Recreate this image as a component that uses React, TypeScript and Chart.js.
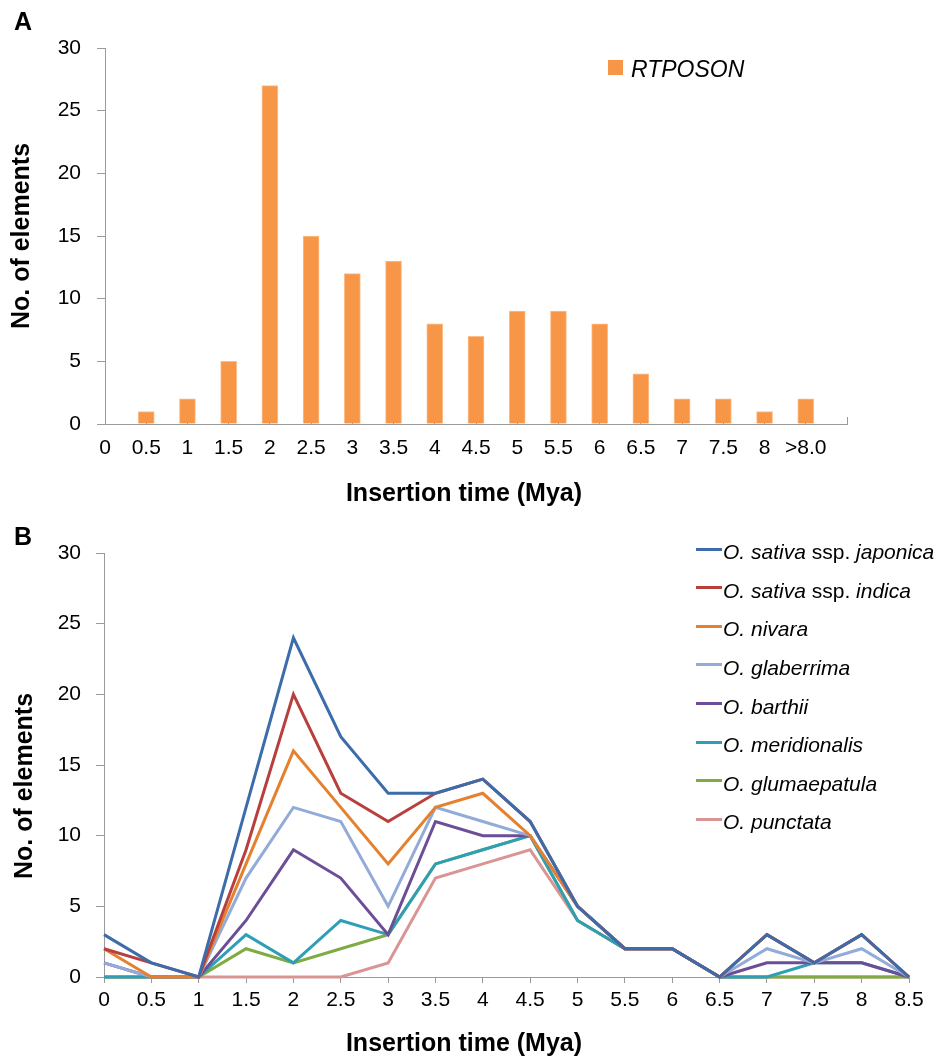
import { useEffect, useRef } from 'react';
import { Chart, registerables } from 'chart.js';

Chart.register(...registerables);

const FONT = '"Liberation Sans", Arial, Helvetica, sans-serif';

// ---------- Panel A data ----------
const barCategories = ['0', '0.5', '1', '1.5', '2', '2.5', '3', '3.5', '4', '4.5', '5', '5.5', '6', '6.5', '7', '7.5', '8', '>8.0', ''];
const rtposonCounts = [null, 1, 2, 5, 27, 15, 12, 13, 8, 7, 9, 9, 8, 4, 2, 2, 1, 2, null];

// ---------- Panel B data ----------
const timeLabels = ['0', '0.5', '1', '1.5', '2', '2.5', '3', '3.5', '4', '4.5', '5', '5.5', '6', '6.5', '7', '7.5', '8', '8.5'];
const japonica = [3, 1, 0, 12, 24, 17, 13, 13, 14, 11, 5, 2, 2, 0, 3, 1, 3, 0];
const indica = [2, 1, 0, 9, 20, 13, 11, 13, 14, 11, 5, 2, 2, 0, 3, 1, 3, 0];
const nivara = [2, 0, 0, 8, 16, 12, 8, 12, 13, 10, 5, 2, 2, 0, 3, 1, 3, 0];
const glaberrima = [1, 0, 0, 7, 12, 11, 5, 12, 11, 10, 5, 2, 2, 0, 2, 1, 2, 0];
const barthii = [1, 0, 0, 4, 9, 7, 3, 11, 10, 10, 5, 2, 2, 0, 1, 1, 1, 0];
const meridionalis = [0, 0, 0, 3, 1, 4, 3, 8, 9, 10, 4, 2, 2, 0, 0, 1, 1, 0];
const glumaepatula = [0, 0, 0, 2, 1, 2, 3, 8, 9, 10, 4, 2, 2, 0, 0, 0, 0, 0];
const punctata = [0, 0, 0, 0, 0, 0, 1, 7, 8, 9, 4, 2, 2, 0, 0, 0, 0, 0];

const seriesNames = [
  'O. sativa ssp. japonica',
  'O. sativa ssp. indica',
  'O. nivara',
  'O. glaberrima',
  'O. barthii',
  'O. meridionalis',
  'O. glumaepatula',
  'O. punctata',
];
const seriesValues = [japonica, indica, nivara, glaberrima, barthii, meridionalis, glumaepatula, punctata];
const seriesColors = ['#3D6CAB', '#B7403D', '#E5812E', '#93ABD8', '#6C4E97', '#2F9FB6', '#7EAB42', '#D99594'];

const yTicks = { min: 0, max: 30, step: 5 };
const AXIS_GRAY = '#9a9a9a';

function legendLabel(name: string) {
  // "ssp." is upright, the rest italic
  const parts = name.split(/( ssp\. )/);
  return parts.map((p, i) =>
    p === ' ssp. ' ? (
      <span key={i} style={{ fontStyle: 'normal' }}>{p}</span>
    ) : (
      <span key={i} style={{ fontStyle: 'italic' }}>{p}</span>
    )
  );
}

export default function App() {
  const refA = useRef<HTMLCanvasElement | null>(null);
  const refB = useRef<HTMLCanvasElement | null>(null);

  useEffect(() => {
    const tickFont = { family: FONT, size: 21 };
    const chartA = new Chart(refA.current as HTMLCanvasElement, {
      type: 'bar',
      data: {
        labels: barCategories,
        datasets: [
          {
            label: 'RTPOSON',
            data: rtposonCounts as any,
            backgroundColor: '#F79646',
            borderColor: '#FBBE8A',
            borderWidth: 1,
            barThickness: 16,
          },
        ],
      },
      options: {
        responsive: false,
        animation: false,
        devicePixelRatio: 1,
        layout: { padding: { top: 48, right: 88, bottom: 0, left: 0 } },
        plugins: { legend: { display: false }, tooltip: { enabled: false } },
        scales: {
          x: {
            type: 'category',
            offset: false,
            grid: { offset: false, drawOnChartArea: false, drawTicks: true, tickLength: -7, color: AXIS_GRAY },
            border: { display: true, color: AXIS_GRAY, width: 1 },
            ticks: { font: tickFont, color: '#000', padding: 19, autoSkip: false, maxRotation: 0 },
            afterFit: (s: any) => { s.height = 96; },
          },
          y: {
            min: yTicks.min,
            max: yTicks.max,
            grid: { drawOnChartArea: false, drawTicks: true, tickLength: 8, color: AXIS_GRAY },
            border: { display: true, color: AXIS_GRAY, width: 1 },
            ticks: { stepSize: yTicks.step, font: tickFont, color: '#000', padding: 16 },
            title: {
              display: true,
              text: 'No. of elements',
              color: '#000',
              font: { family: FONT, size: 25, weight: 'bold' },
              padding: { top: 7, bottom: 0 },
            },
            afterFit: (s: any) => { s.width = 105; },
          },
        },
      } as any,
    });

    const chartB = new Chart(refB.current as HTMLCanvasElement, {
      type: 'line',
      data: {
        labels: timeLabels,
        datasets: seriesValues.map((vals, i) => ({
          label: seriesNames[i],
          data: vals,
          borderColor: seriesColors[i],
          backgroundColor: seriesColors[i],
          borderWidth: 3,
          pointRadius: 0,
          tension: 0,
          fill: false,
          clip: false,
        })),
      },
      options: {
        responsive: false,
        animation: false,
        devicePixelRatio: 1,
        layout: { padding: { top: 33, right: 26, bottom: 0, left: 0 } },
        plugins: { legend: { display: false }, tooltip: { enabled: false } },
        scales: {
          x: {
            type: 'category',
            offset: false,
            grid: { offset: false, drawOnChartArea: false, drawTicks: true, tickLength: 6, color: AXIS_GRAY },
            border: { display: true, color: AXIS_GRAY, width: 1 },
            ticks: { font: tickFont, color: '#000', padding: 5, autoSkip: false, maxRotation: 0 },
            afterFit: (s: any) => { s.height = 80; },
          },
          y: {
            min: yTicks.min,
            max: yTicks.max,
            grid: { drawOnChartArea: false, drawTicks: true, tickLength: 8, color: AXIS_GRAY },
            border: { display: true, color: AXIS_GRAY, width: 1 },
            ticks: { stepSize: yTicks.step, font: tickFont, color: '#000', padding: 15 },
            afterFit: (s: any) => { s.width = 104; },
          },
        },
      } as any,
    });

    return () => {
      chartA.destroy();
      chartB.destroy();
    };
  }, []);

  const panelLetter = { position: 'absolute' as const, left: 14, font: `bold 25px ${FONT}`, lineHeight: '25px', color: '#000' };
  const xTitle = {
    position: 'absolute' as const,
    left: 464,
    transform: 'translateX(-50%)',
    whiteSpace: 'nowrap' as const,
    font: `bold 25px ${FONT}`,
    lineHeight: '25px',
    color: '#000',
  };

  return (
    <div style={{ position: 'absolute', left: 0, top: 0, width: 935, height: 1057, background: '#fff', fontFamily: FONT }}>
      <canvas ref={refA} width={935} height={520} style={{ position: 'absolute', left: 0, top: 0, display: 'block' }} />
      <canvas ref={refB} width={935} height={537} style={{ position: 'absolute', left: 0, top: 520, display: 'block' }} />

      <div style={{ ...panelLetter, top: 9 }}>A</div>
      <div style={{ ...panelLetter, top: 524 }}>B</div>

      <div style={{ ...xTitle, top: 480 }}>Insertion time (Mya)</div>
      <div style={{ ...xTitle, top: 1030 }}>Insertion time (Mya)</div>

      <div
        style={{
          position: 'absolute',
          left: 23,
          top: 786,
          transform: 'translate(-50%,-50%) rotate(-90deg)',
          whiteSpace: 'nowrap',
          font: `bold 25px ${FONT}`,
          lineHeight: '25px',
          color: '#000',
        }}
      >
        No. of elements
      </div>

      {/* Legend A */}
      <div style={{ position: 'absolute', left: 608, top: 60, width: 15, height: 15, background: '#F79646' }} />
      <div style={{ position: 'absolute', left: 631, top: 58, font: `italic 23px ${FONT}`, lineHeight: '23px', color: '#000' }}>
        RTPOSON
      </div>

      {/* Legend B */}
      {seriesNames.map((name, i) => {
        const cy = 549 + i * 38.6;
        return (
          <div key={name}>
            <div style={{ position: 'absolute', left: 696, top: cy - 1.5, width: 26, height: 3, background: seriesColors[i] }} />
            <div
              style={{
                position: 'absolute',
                left: 723,
                top: cy + 2.5 - 10.3,
                font: `21px ${FONT}`,
                lineHeight: '21px',
                whiteSpace: 'nowrap',
                color: '#000',
              }}
            >
              {legendLabel(name)}
            </div>
          </div>
        );
      })}
    </div>
  );
}
